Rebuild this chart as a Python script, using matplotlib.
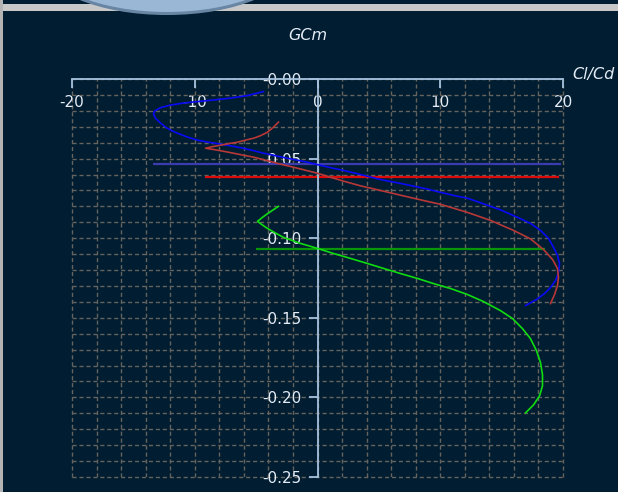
import matplotlib
matplotlib.use("Agg")
import matplotlib.pyplot as plt
from matplotlib.patches import Rectangle, Ellipse
from matplotlib.ticker import MultipleLocator

# polar curves: Cl/Cd against Cm
blue_x = [-4.40, -5.70, -7.09, -8.47, -9.78, -10.92, -11.98, -12.79, -13.28, -13.36,
          -13.20, -12.87, -12.38, -11.89, -11.41, -10.59, -9.78, -8.88, -7.90, -6.92,
          -6.03, -5.21, -4.40, -3.42, -2.44, -1.63, -0.81, 0.00, 1.06, 2.04, 3.10,
          4.07, 5.05, 6.03, 7.09, 8.07, 9.04, 10.02, 11.08, 12.22, 13.52, 14.91,
          16.29, 17.35, 18.17, 18.82, 19.23, 19.55, 19.72, 19.63, 19.39, 18.98,
          18.49, 17.84, 16.95]
blue_y = [-0.0079, -0.0104, -0.0120, -0.0132, -0.0142, -0.0151, -0.0164, -0.0180,
          -0.0202, -0.0220, -0.0246, -0.0271, -0.0302, -0.0324, -0.0340, -0.0365,
          -0.0384, -0.0397, -0.0409, -0.0422, -0.0435, -0.0450, -0.0466, -0.0482,
          -0.0498, -0.0510, -0.0523, -0.0538, -0.0557, -0.0573, -0.0592, -0.0611,
          -0.0630, -0.0645, -0.0661, -0.0677, -0.0693, -0.0712, -0.0731, -0.0749,
          -0.0784, -0.0822, -0.0869, -0.0907, -0.0951, -0.1001, -0.1058, -0.1108,
          -0.1159, -0.1215, -0.1266, -0.1310, -0.1348, -0.1385, -0.1423]

red_x = [-3.18, -3.58, -4.07, -4.64, -5.21, -5.87, -6.52, -7.25, -7.90, -8.55, -9.12,
         -8.15, -7.25, -6.27, -5.21, -4.07, -3.01, -1.96, -0.98, 0.00, 1.06, 2.28,
         3.50, 4.73, 5.95, 7.17, 8.39, 10.02, 12.22, 14.09, 15.97, 17.35, 18.41,
         19.15, 19.55, 19.63, 19.55, 19.31, 18.98]
red_y = [-0.0271, -0.0302, -0.0334, -0.0356, -0.0372, -0.0384, -0.0397, -0.0406,
         -0.0416, -0.0425, -0.0435, -0.0447, -0.0460, -0.0475, -0.0491, -0.0513,
         -0.0535, -0.0554, -0.0573, -0.0592, -0.0617, -0.0645, -0.0671, -0.0693,
         -0.0715, -0.0737, -0.0759, -0.0787, -0.0838, -0.0888, -0.0951, -0.1004,
         -0.1071, -0.1134, -0.1190, -0.1247, -0.1297, -0.1354, -0.1411]

green_x = [-3.18, -3.67, -4.15, -4.48, -4.89, -4.56, -4.15, -3.67, -2.77, -1.38, 0.00,
           1.30, 2.69, 4.07, 5.38, 6.76, 8.15, 9.45, 10.84, 12.22, 13.52, 14.91,
           15.89, 16.70, 17.35, 17.84, 18.17, 18.33, 18.33, 18.09, 17.60, 16.95]
green_y = [-0.0800, -0.0825, -0.0850, -0.0869, -0.0894, -0.0913, -0.0935, -0.0957,
           -0.0995, -0.1033, -0.1064, -0.1096, -0.1127, -0.1159, -0.1190, -0.1222,
           -0.1253, -0.1285, -0.1316, -0.1354, -0.1398, -0.1455, -0.1505, -0.1568,
           -0.1631, -0.1707, -0.1782, -0.1858, -0.1927, -0.1990, -0.2047, -0.2097]

# horizontal reference lines (y, x_start, x_end)
blue_ref = (-0.0535, -13.44, 19.8)
red_ref = (-0.0615, -9.20, 19.7)
green_ref = (-0.1068, -4.97, 18.5)

x_ticks = [-20, -10, 0, 10, 20]
x_labels = ["-20", "-10", "0", "10", "20"]
y_ticks = [0.0, -0.05, -0.10, -0.15, -0.20, -0.25]
y_labels = ["-0.00", "-0.05", "-0.10", "-0.15", "-0.20", "-0.25"]

BG = "#001d31"
AXIS = "#a6c2de"
TEXT = "#e4ecf6"
GRID = "#66625e"

fig = plt.figure(figsize=(6.18, 4.92), dpi=100, facecolor=BG)

# window frame in pixel coordinates
bg = fig.add_axes([0, 0, 1, 1])
bg.set_xlim(0, 618)
bg.set_ylim(492, 0)
bg.axis("off")
bg.add_patch(Rectangle((0, 3.5), 618, 7, facecolor="#c8c8c8", edgecolor="none"))
bg.add_patch(Rectangle((0, 0), 2.6, 492, facecolor="#b4b4b4", edgecolor="none"))
bg.add_patch(Ellipse((167, -40), 250, 107, facecolor="#9ab8d6",
                     edgecolor="#6886a4", linewidth=2.2))

ax = fig.add_axes([72 / 618, 15 / 492, 491 / 618, 398 / 492])
ax.set_facecolor("none")
ax.set_xlim(-20, 20)
ax.set_ylim(-0.25, 0)

for s in ("top", "right"):
    ax.spines[s].set_visible(False)
ax.spines["bottom"].set_position(("data", 0))
ax.spines["left"].set_position(("data", 0))
for s in ("bottom", "left"):
    ax.spines[s].set_color(AXIS)
    ax.spines[s].set_linewidth(1.3)

ax.set_xticks(x_ticks)
ax.set_xticklabels(x_labels)
ax.set_yticks(y_ticks)
ax.set_yticklabels(y_labels)
ax.xaxis.set_minor_locator(MultipleLocator(2))
ax.yaxis.set_minor_locator(MultipleLocator(0.01))
ax.tick_params(which="major", axis="both", colors=AXIS, labelcolor=TEXT,
               labelsize=11, width=1.3, length=6.2, direction="out", pad=5)
ax.tick_params(which="minor", length=0)

ax.grid(True, which="both", color=GRID, linewidth=1.0, linestyle=(0, (3, 2)))
for gl in ax.get_xgridlines() + ax.get_ygridlines():
    gl.set_clip_on(False)
ax.set_axisbelow(True)

ax.plot(blue_x, blue_y, color="#0a0af5", linewidth=1.2, zorder=3)
ax.plot(red_x, red_y, color="#b83838", linewidth=1.2, zorder=3)
ax.plot(green_x, green_y, color="#10dc10", linewidth=1.2, zorder=3)

ax.hlines(blue_ref[0], blue_ref[1], blue_ref[2], color="#3c3cb0", linewidth=1.6, zorder=2)
ax.hlines(red_ref[0], red_ref[1], red_ref[2], color="#dd0a0a", linewidth=1.6, zorder=2)
ax.hlines(green_ref[0], green_ref[1], green_ref[2], color="#0a960a", linewidth=1.6, zorder=2)

fig.text(308 / 618, 1 - 36 / 492, "GCm", color=TEXT, fontsize=11.5, style="italic",
         ha="center", va="center")
fig.text(572 / 618, 1 - 74 / 492, "Cl/Cd", color=TEXT, fontsize=11.5, style="italic",
         ha="left", va="center")

fig.savefig("out.png", dpi=100, facecolor=BG)
